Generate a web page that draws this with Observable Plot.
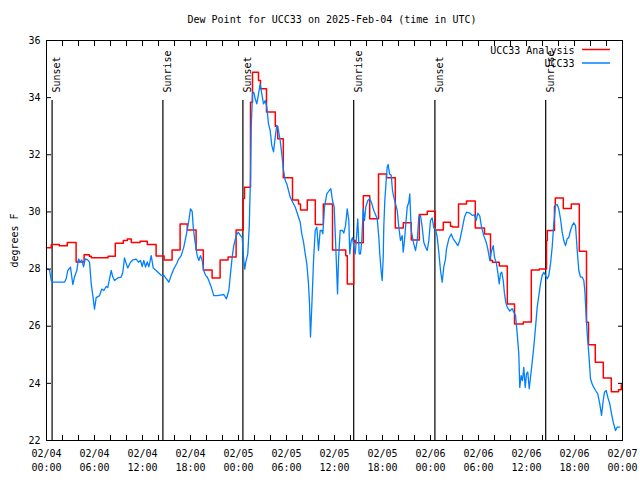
<!DOCTYPE html>
<html><head><meta charset="utf-8">
<script src="https://cdn.jsdelivr.net/npm/d3@7"></script>
<script src="https://cdn.jsdelivr.net/npm/@observablehq/plot@0.6"></script>
<style>
body{margin:0;background:#fff;}
#title{width:640px;height:30px;box-sizing:border-box;padding-top:14px;padding-left:24px;line-height:12px;font:10px "DejaVu Sans Mono",monospace;text-align:center;color:#000;}
#chart svg{display:block;}
</style></head><body>
<div id="title">Dew Point for UCC33 on 2025-Feb-04 (time in UTC)</div>
<div id="chart"></div>
<script>
const chartTitle = "Dew Point for UCC33 on 2025-Feb-04 (time in UTC)";
const seriesNames = ["UCC33 Analysis", "UCC33"];
const seriesColors = ["#ff0000", "#0080ff"];
const yLabel = "degrees F";
const yTicks = [22, 24, 26, 28, 30, 32, 34, 36];
const startUTC = Date.UTC(2025, 1, 4, 0, 0);
const endUTC = Date.UTC(2025, 1, 7, 0, 0);

// sun events (hours after 2025-02-04 00:00 UTC)
const sunEventNames = ["Sunset", "Sunrise", "Sunset", "Sunrise", "Sunset", "Sunrise"];
const sunEventHours = [0.7, 14.55, 24.55, 38.4, 48.55, 62.4];

// analysis (hourly, stepped): start hour of each step and its value
const analysisHours = [0,0.6,1.6,2.6,3.7,4.7,5.35,5.6,7.7,8.6,9.6,10.1,10.6,11.7,12.6,13.7,14.7,15.7,16.7,17.6,18.7,19.6,20.7,21.7,22.7,23.7,24.6,24.75,25.5,25.75,26.5,26.75,27.5,28.6,28.9,29.6,30.75,31.5,31.75,32.6,33.6,34.6,35.75,37.4,37.6,38.4,38.6,39.6,40.4,41.5,42.5,43.6,44.6,45.6,46.6,47.6,48.6,49.6,50.5,50.75,51.5,52.5,53.6,54.75,55.5,55.75,56.6,57.6,58.5,59.6,60.6,61.6,62.5,62.6,63.5,63.6,64.6,65.6,66.6,67.5,67.75,68.6,69.6,70.6,71.5,71.85];
const analysisValues = [28.75,28.86,28.82,28.93,28.25,28.5,28.45,28.4,28.45,28.9,29.0,29.05,28.93,28.97,28.86,28.46,28.32,28.67,29.58,29.37,28.67,27.97,27.69,28.32,28.42,29.37,30.47,30.86,33.84,34.89,34.6,34.31,33.5,33.0,32.56,31.2,30.42,30.28,30.07,30.42,29.56,30.28,28.67,28.47,27.48,29.0,28.92,30.57,29.76,31.33,31.2,29.44,29.62,29.02,29.91,30.02,29.37,29.64,29.5,29.47,30.28,30.38,29.44,29.23,28.3,28.24,28.11,26.78,26.08,26.15,27.97,28.0,29.0,29.35,30.2,30.49,30.12,30.28,28.62,26.14,25.35,24.74,24.19,23.71,23.78,23.95];

// observations: [hour, value]
const observed = [
[0.09,28.0],[0.38,27.97],[0.59,27.6],[0.75,27.54],[2.25,27.54],[2.46,27.66],[2.66,27.95],[3.0,28.07],[3.29,27.46],[3.5,27.72],
[3.79,27.95],[4.0,28.36],[4.21,28.24],[4.41,28.32],[4.63,28.08],[4.84,28.36],[5.16,28.32],[5.38,28.24],[5.59,27.48],[5.79,27.07],
[6.0,26.6],[6.21,27.0],[6.63,27.07],[6.91,27.3],[7.16,27.25],[7.46,27.39],[7.66,27.35],[7.88,27.66],[8.09,27.95],[8.29,27.72],
[8.5,27.6],[8.91,27.69],[9.34,27.72],[9.54,27.89],[9.75,28.39],[9.96,28.2],[10.16,28.04],[10.5,28.24],[10.79,28.32],[11.21,28.35],
[11.5,28.24],[11.75,28.3],[11.96,28.09],[12.16,28.3],[12.38,28.07],[12.59,28.25],[12.79,28.08],[13.09,28.47],[13.34,28.04],[13.63,27.97],
[14.04,27.86],[14.34,27.78],[14.66,27.78],[15.0,27.66],[15.29,27.54],[15.59,27.78],[15.91,28.0],[16.25,28.18],[16.54,28.36],[16.84,28.47],
[17.16,28.77],[17.5,29.23],[17.79,29.7],[18.0,30.11],[18.21,30.02],[18.34,29.47],[18.54,29.0],[18.84,28.47],[19.04,28.3],[19.25,28.47],
[19.46,28.3],[19.66,27.95],[19.88,27.78],[20.09,27.72],[20.29,27.6],[20.59,27.37],[20.91,27.07],[21.34,27.07],[21.75,27.09],[22.16,27.11],
[22.5,26.96],[22.79,27.25],[23.0,27.84],[23.21,28.42],[23.41,28.82],[23.71,29.17],[23.96,29.29],[24.25,29.17],[24.46,29.1],[24.66,28.3],
[24.79,28.0],[24.91,28.24],[25.16,28.53],[25.34,29.47],[25.5,31.22],[25.59,32.97],[25.75,34.13],[25.91,34.19],[26.09,33.96],[26.29,33.78],
[26.5,34.13],[26.71,34.48],[26.91,34.13],[27.13,33.78],[27.34,33.9],[27.54,33.67],[27.75,33.08],[27.96,32.85],[28.16,32.33],[28.38,32.1],
[28.59,32.62],[28.79,33.03],[29.0,32.85],[29.21,32.5],[29.41,32.03],[29.63,31.45],[29.84,31.1],[30.04,30.98],[30.25,30.75],[30.46,30.52],
[30.66,30.4],[31.09,30.17],[31.5,29.82],[31.71,29.64],[31.91,29.23],[32.13,28.94],[32.34,28.53],[32.54,28.18],[32.75,27.48],[32.88,26.78],
[33.0,25.62],[33.16,26.67],[33.38,28.3],[33.59,29.35],[33.79,29.47],[34.0,28.65],[34.21,29.35],[34.41,29.35],[34.54,29.23],[34.75,30.17],
[35.04,30.63],[35.34,30.75],[35.54,30.81],[35.75,30.4],[35.96,30.17],[36.16,28.77],[36.38,27.13],[36.5,28.3],[36.71,29.35],[37.0,29.35],
[37.16,29.26],[37.38,29.52],[37.59,30.11],[37.79,29.7],[37.91,28.53],[38.09,29.0],[38.25,29.1],[38.41,28.82],[38.59,28.53],[38.75,29.12],
[38.91,29.76],[39.09,28.53],[39.25,28.53],[39.41,29.0],[39.59,30.11],[39.75,29.7],[39.91,30.17],[40.16,30.4],[40.41,30.46],[40.66,30.3],
[40.91,30.05],[41.16,29.88],[41.34,29.76],[41.54,29.12],[41.66,28.53],[41.84,27.89],[41.96,27.6],[42.09,28.42],[42.16,29.47],[42.29,30.4],
[42.46,31.1],[42.59,31.57],[42.71,31.66],[42.88,31.33],[43.09,31.28],[43.25,30.75],[43.41,30.52],[43.63,30.28],[43.84,30.05],[44.04,29.47],
[44.25,29.0],[44.46,29.17],[44.59,28.59],[44.75,29.0],[44.91,29.58],[45.09,30.17],[45.29,30.34],[45.41,30.63],[45.59,29.35],[45.75,29.12],
[45.91,28.88],[46.13,28.65],[46.34,29.0],[46.54,29.82],[46.75,29.88],[46.96,29.47],[47.16,28.94],[47.38,28.77],[47.59,28.65],[47.79,29.0],
[48.0,29.7],[48.21,29.79],[48.41,29.44],[48.63,29.4],[48.84,29.12],[49.04,28.59],[49.25,27.95],[49.46,27.54],[49.66,28.07],[49.88,28.36],
[50.0,28.71],[50.29,29.06],[50.59,29.23],[50.84,29.06],[51.13,28.94],[51.41,28.82],[51.66,29.0],[51.96,29.41],[52.25,29.82],[52.5,29.99],
[52.91,29.96],[53.21,29.88],[53.5,29.9],[53.71,29.7],[53.91,29.96],[54.16,29.85],[54.38,29.47],[54.66,29.17],[54.96,28.94],[55.16,28.71],
[55.41,28.3],[55.59,28.59],[55.84,28.82],[56.0,28.42],[56.25,28.18],[56.41,27.89],[56.59,27.48],[56.75,27.84],[56.91,27.89],[57.09,27.6],
[57.25,27.13],[57.41,26.84],[57.59,26.67],[57.91,26.53],[58.21,26.61],[58.41,26.49],[58.63,26.38],[58.84,25.73],[59.04,25.03],[59.16,23.86],
[59.34,24.27],[59.5,24.1],[59.66,24.56],[59.84,23.86],[60.0,24.33],[60.16,24.4],[60.34,23.81],[60.5,24.21],[60.71,24.74],[60.91,25.27],
[61.13,25.97],[61.34,26.67],[61.54,27.07],[61.75,27.48],[61.96,27.78],[62.16,27.89],[62.38,27.78],[62.59,27.66],[62.79,27.78],[63.0,28.18],
[63.21,28.77],[63.41,29.58],[63.63,30.23],[63.84,30.26],[64.04,30.1],[64.25,29.76],[64.46,29.29],[64.66,29.0],[64.88,28.82],[65.09,29.06],
[65.29,29.1],[65.5,29.35],[65.71,29.52],[65.91,29.62],[66.13,29.52],[66.34,28.65],[66.54,27.95],[66.75,27.72],[66.96,27.72],[67.16,27.6],
[67.29,27.25],[67.41,26.61],[67.59,25.73],[67.79,25.03],[68.0,24.16],[68.21,23.98],[68.41,23.86],[68.63,23.75],[68.91,23.63],[69.16,23.28],
[69.38,22.88],[69.59,23.4],[69.75,23.69],[69.96,23.75],[70.16,23.52],[70.41,23.28],[70.63,22.93],[70.84,22.64],[71.13,22.35],[71.34,22.47],
[71.66,22.47]
];

const toDate = h => new Date(startUTC + h * 3600e3);
const analysis = analysisHours.map((h, i) => ({t: toDate(h), v: analysisValues[i]}));
const obs = observed.map(([h, v]) => ({t: toDate(h), v}));
const sun = sunEventHours.map((h, i) => ({t: toDate(h), name: sunEventNames[i]}));
const xTicksMinor = d3.utcHour.every(2).range(new Date(startUTC), new Date(endUTC + 1));
const xTicksMajor = d3.utcHour.every(6).range(new Date(startUTC), new Date(endUTC + 1));
const fmtX = d => d3.utcFormat("%m/%d")(d) + "\n" + d3.utcFormat("%H:%M")(d);

function legendLines(index, scales, values, dims) {
  const ns = "http://www.w3.org/2000/svg";
  const g = document.createElementNS(ns, "g");
  const right = dims.width - dims.marginRight;
  const top = dims.marginTop;
  [9.5, 23].forEach((dy, i) => {
    const l = document.createElementNS(ns, "line");
    l.setAttribute("x1", right - 40);
    l.setAttribute("x2", right - 12);
    l.setAttribute("y1", top + dy);
    l.setAttribute("y2", top + dy);
    l.setAttribute("stroke", seriesColors[i]);
    l.setAttribute("stroke-width", 1.5);
    g.appendChild(l);
  });
  return g;
}

const plot = Plot.plot({
  width: 640,
  height: 450,
  marginTop: 10,
  marginBottom: 40,
  marginLeft: 46,
  marginRight: 18,
  style: {fontFamily: "'DejaVu Sans Mono', monospace", fontSize: "10px", background: "white", color: "black"},
  x: {type: "utc", domain: [new Date(startUTC), new Date(endUTC)]},
  y: {domain: [22, 36]},
  marks: [
    Plot.ruleX(sun, {x: "t", insetTop: 60, stroke: "black", strokeWidth: 1.2}),
    Plot.text(sun, {x: "t", text: "name", frameAnchor: "top", rotate: -90, textAnchor: "start", dy: 52, dx: 1, fill: "black"}),
    Plot.line(analysis, {x: "t", y: "v", curve: "step-after", stroke: seriesColors[0], strokeWidth: 1.5}),
    Plot.line(obs, {x: "t", y: "v", stroke: seriesColors[1], strokeWidth: 1.3}),
    Plot.axisY({ticks: yTicks, anchor: "left", tickSize: 0, tickPadding: 6, label: yLabel, labelAnchor: "center", labelArrow: "none", labelOffset: 36}),
    Plot.axisY({ticks: yTicks, anchor: "left", tickSize: -5, text: null, label: null}),
    Plot.axisY({ticks: yTicks, anchor: "right", tickSize: -5, text: null, label: null}),
    Plot.axisX({ticks: xTicksMajor, anchor: "bottom", tickSize: 0, tickPadding: 7, tickFormat: fmtX, lineHeight: 1.4, label: null}),
    Plot.axisX({ticks: xTicksMinor, anchor: "bottom", tickSize: -5, text: null, label: null}),
    Plot.axisX({ticks: xTicksMinor, anchor: "top", tickSize: -5, text: null, label: null}),
    Plot.frame({stroke: "black"}),
    Plot.text([seriesNames[0]], {frameAnchor: "top-right", lineAnchor: "middle", dx: -48, dy: 10.5, textAnchor: "end", fill: "black"}),
    Plot.text([seriesNames[1]], {frameAnchor: "top-right", lineAnchor: "middle", dx: -48, dy: 23.5, textAnchor: "end", fill: "black"}),
    legendLines
  ]
});
document.getElementById("chart").appendChild(plot);
</script>
</body></html>
